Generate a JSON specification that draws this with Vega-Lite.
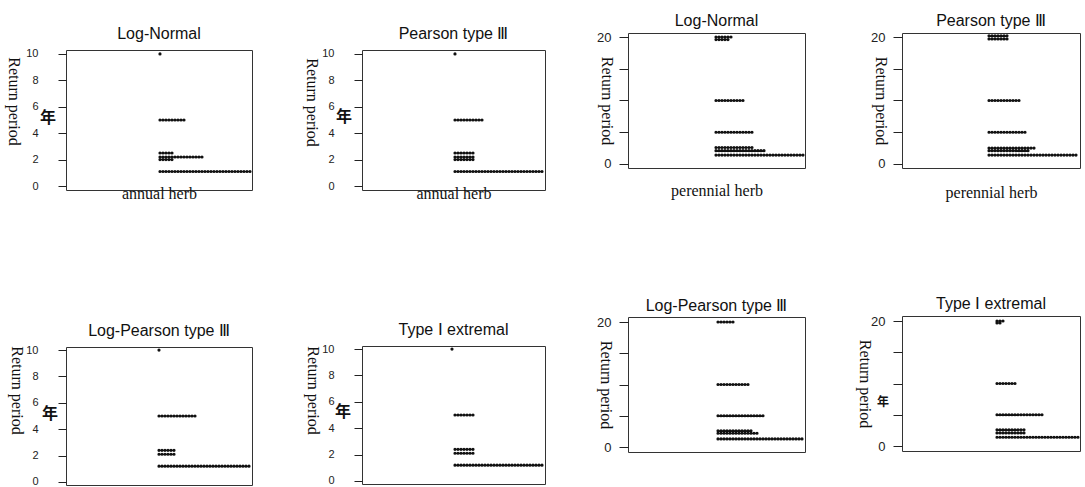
{
  "$schema": "https://vega.github.io/schema/vega-lite/v6.json",
  "padding": {"left": 5, "top": 0, "right": 0, "bottom": 0},
  "background": "white",
  "config": {
    "view": {"stroke": "#333", "strokeWidth": 1},
    "font": "Liberation Sans",
    "title": {"fontSize": 16, "font": "Liberation Sans", "fontWeight": "normal", "color": "#111", "baseline": "alphabetic", "anchor": "middle"},
    "axis": {"grid": false, "domain": false, "tickColor": "#222", "labelColor": "#222", "titleColor": "#111", "titleFont": "Liberation Serif", "titleFontSize": 16, "titleFontWeight": "normal", "labelFont": "Liberation Sans", "labelOverlap": false},
    "rule": {"strokeDash": [0, 3], "strokeCap": "round", "strokeWidth": 3.2, "color": "#111"},
    "text": {"font": "Noto Sans CJK SC", "fontWeight": "bold", "color": "#111"}
  },
  "datasets": {
    "a1": [{"v": 10, "n": 2}, {"v": 5, "n": 10}, {"v": 2.5, "n": 6}, {"v": 2.2, "n": 16}, {"v": 2.0, "n": 6}, {"v": 1.1, "n": 32}],
    "a2": [{"v": 10, "n": 2}, {"v": 5, "n": 11}, {"v": 2.5, "n": 8}, {"v": 2.2, "n": 8}, {"v": 2.0, "n": 8}, {"v": 1.1, "n": 31}],
    "a3": [{"v": 20, "n": 7}, {"v": 19.6, "n": 6}, {"v": 10, "n": 11}, {"v": 5, "n": 14}, {"v": 2.6, "n": 14}, {"v": 2.1, "n": 18}, {"v": 1.4, "n": 31}],
    "a4": [{"v": 20.2, "n": 7}, {"v": 19.7, "n": 7}, {"v": 10, "n": 11}, {"v": 5, "n": 13}, {"v": 2.5, "n": 16}, {"v": 2.1, "n": 14}, {"v": 1.4, "n": 30}],
    "a5": [{"v": 10, "n": 2}, {"v": 5, "n": 14}, {"v": 2.4, "n": 7}, {"v": 2.1, "n": 7}, {"v": 1.2, "n": 32}],
    "a6": [{"v": 10, "n": 1}, {"v": 5, "n": 8}, {"v": 2.4, "n": 8}, {"v": 2.1, "n": 8}, {"v": 1.2, "n": 31}],
    "a7": [{"v": 20, "n": 7}, {"v": 10, "n": 12}, {"v": 5, "n": 17}, {"v": 2.6, "n": 13}, {"v": 2.2, "n": 15}, {"v": 1.3, "n": 30}],
    "a8": [{"v": 20, "n": 4}, {"v": 19.7, "n": 3}, {"v": 10, "n": 8}, {"v": 5, "n": 17}, {"v": 2.6, "n": 11}, {"v": 2.1, "n": 11}, {"v": 1.4, "n": 29}],
    "blank": [{}]
  },
  "spacing": 50,
  "hconcat": [
    {
      "spacing": 0, "bounds": "flush",
      "vconcat": [
        {"width": 1, "height": 50, "view": {"stroke": null}, "data": {"name": "blank"}, "mark": {"type": "point", "opacity": 0, "size": 1}},
        {
          "width": 186, "height": 140,
          "title": {"text": "Log-Normal", "offset": 6},
          "layer": [
            {"data": {"name": "a1"}, "mark": "rule",
             "encoding": {
               "x": {"field": "n", "type": "quantitative", "scale": {"domain": [-29.33, 32.67], "nice": false, "zero": false}, "axis": {"title": "annual herb", "labels": false, "ticks": false, "titlePadding": -5}},
               "x2": {"datum": 1},
               "y": {"field": "v", "type": "quantitative", "scale": {"domain": [-0.3, 10.3], "nice": false, "zero": false}, "axis": {"title": "Return period", "values": [0, 2, 4, 6, 8, 10], "tickCount": 12, "labelOverlap": false, "labelFontSize": 11, "labelPadding": 20, "tickSize": 8, "titleAngle": 90, "titleBaseline": "top", "titlePadding": 4, "titleY": 51}}
             }},
            {"data": {"values": [{"t": "年"}]}, "mark": {"type": "text", "fontSize": 16},
             "encoding": {"text": {"field": "t"}, "x": {"datum": -35.3}, "y": {"datum": 5.15}}}
          ]
        },
        {"width": 1, "height": 157, "view": {"stroke": null}, "data": {"name": "blank"}, "mark": {"type": "point", "opacity": 0, "size": 1}},
        {
          "width": 186, "height": 138,
          "title": {"text": "Log-Pearson type Ⅲ", "offset": 5},
          "layer": [
            {"data": {"name": "a5"}, "mark": "rule",
             "encoding": {
               "x": {"field": "n", "type": "quantitative", "scale": {"domain": [-29, 33], "nice": false, "zero": false}, "axis": null},
               "x2": {"datum": 1},
               "y": {"field": "v", "type": "quantitative", "scale": {"domain": [-0.23, 10.23], "nice": false, "zero": false}, "axis": {"title": "Return period", "values": [0, 2, 4, 6, 8, 10], "tickCount": 12, "labelOverlap": false, "labelFontSize": 11, "labelPadding": 20, "tickSize": 8, "titleAngle": 90, "titleBaseline": "top", "titlePadding": 1, "titleY": 43}}
             }},
            {"data": {"values": [{"t": "年"}]}, "mark": {"type": "text", "fontSize": 16},
             "encoding": {"text": {"field": "t"}, "x": {"datum": -34.3}, "y": {"datum": 5.15}}}
          ]
        }
      ]
    },
    {
      "spacing": 0, "bounds": "flush",
      "vconcat": [
        {"width": 1, "height": 50, "view": {"stroke": null}, "data": {"name": "blank"}, "mark": {"type": "point", "opacity": 0, "size": 1}},
        {
          "width": 183, "height": 140,
          "title": {"text": "Pearson type Ⅲ", "offset": 6},
          "layer": [
            {"data": {"name": "a2"}, "mark": "rule",
             "encoding": {
               "x": {"field": "n", "type": "quantitative", "scale": {"domain": [-29, 32], "nice": false, "zero": false}, "axis": {"title": "annual herb", "labels": false, "ticks": false, "titlePadding": -5}},
               "x2": {"datum": 1},
               "y": {"field": "v", "type": "quantitative", "scale": {"domain": [-0.3, 10.3], "nice": false, "zero": false}, "axis": {"title": "Return period", "values": [0, 2, 4, 6, 8, 10], "tickCount": 12, "labelOverlap": false, "labelFontSize": 11, "labelPadding": 20, "tickSize": 8, "titleAngle": 90, "titleBaseline": "top", "titlePadding": 2, "titleY": 52}}
             }},
            {"data": {"values": [{"t": "年"}]}, "mark": {"type": "text", "fontSize": 16},
             "encoding": {"text": {"field": "t"}, "x": {"datum": -35}, "y": {"datum": 5.2}}}
          ]
        },
        {"width": 1, "height": 156, "view": {"stroke": null}, "data": {"name": "blank"}, "mark": {"type": "point", "opacity": 0, "size": 1}},
        {
          "width": 183, "height": 138,
          "title": {"text": "Type Ⅰ extremal", "offset": 5},
          "layer": [
            {"data": {"name": "a6"}, "mark": "rule",
             "encoding": {
               "x": {"field": "n", "type": "quantitative", "scale": {"domain": [-29, 32], "nice": false, "zero": false}, "axis": null},
               "x2": {"datum": 1},
               "y": {"field": "v", "type": "quantitative", "scale": {"domain": [-0.23, 10.23], "nice": false, "zero": false}, "axis": {"title": "Return period", "values": [0, 2, 4, 6, 8, 10], "tickCount": 12, "labelOverlap": false, "labelFontSize": 11, "labelPadding": 20, "tickSize": 8, "titleAngle": 90, "titleBaseline": "top", "titlePadding": 1, "titleY": 44}}
             }},
            {"data": {"values": [{"t": "年"}]}, "mark": {"type": "text", "fontSize": 16},
             "encoding": {"text": {"field": "t"}, "x": {"datum": -35.3}, "y": {"datum": 5.2}}}
          ]
        }
      ]
    },
    {
      "spacing": 0, "bounds": "flush",
      "vconcat": [
        {"width": 1, "height": 33, "view": {"stroke": null}, "data": {"name": "blank"}, "mark": {"type": "point", "opacity": 0, "size": 1}},
        {
          "width": 177, "height": 135,
          "title": {"text": "Log-Normal", "offset": 2},
          "layer": [
            {"data": {"name": "a3"}, "mark": "rule",
             "encoding": {
               "x": {"field": "n", "type": "quantitative", "scale": {"domain": [-27.33, 31.67], "nice": false, "zero": false}, "axis": {"title": "perennial herb", "labels": false, "ticks": false, "titlePadding": 14}},
               "x2": {"datum": 1},
               "y": {"field": "v", "type": "quantitative", "scale": {"domain": [-0.63, 20.63], "nice": false, "zero": false}, "axis": {"title": "Return period", "values": [0, 5, 10, 15, 20], "tickCount": 12, "labelExpr": "datum.value == 0 || datum.value == 20 ? datum.label : ''", "labelFontSize": 13, "labelPadding": 8, "tickSize": 9, "titleAngle": 90, "titleBaseline": "top", "titlePadding": -18}}
             }}
          ]
        },
        {"width": 1, "height": 149, "view": {"stroke": null}, "data": {"name": "blank"}, "mark": {"type": "point", "opacity": 0, "size": 1}},
        {
          "width": 177, "height": 135,
          "title": {"text": "Log-Pearson type Ⅲ", "offset": 2},
          "layer": [
            {"data": {"name": "a7"}, "mark": "rule",
             "encoding": {
               "x": {"field": "n", "type": "quantitative", "scale": {"domain": [-28, 31], "nice": false, "zero": false}, "axis": null},
               "x2": {"datum": 1},
               "y": {"field": "v", "type": "quantitative", "scale": {"domain": [-0.8, 20.8], "nice": false, "zero": false}, "axis": {"title": "Return period", "values": [0, 5, 10, 15, 20], "tickCount": 12, "labelExpr": "datum.value == 0 || datum.value == 20 ? datum.label : ''", "labelFontSize": 13, "labelPadding": 8, "tickSize": 9, "titleAngle": 90, "titleBaseline": "top", "titlePadding": -17}}
             }}
          ]
        }
      ]
    },
    {
      "spacing": 0, "bounds": "flush",
      "vconcat": [
        {"width": 1, "height": 33, "view": {"stroke": null}, "data": {"name": "blank"}, "mark": {"type": "point", "opacity": 0, "size": 1}},
        {
          "width": 178, "height": 135,
          "title": {"text": "Pearson type Ⅲ", "offset": 2},
          "layer": [
            {"data": {"name": "a4"}, "mark": "rule",
             "encoding": {
               "x": {"field": "n", "type": "quantitative", "scale": {"domain": [-28, 31.33], "nice": false, "zero": false}, "axis": {"title": "perennial herb", "labels": false, "ticks": false, "titlePadding": 16}},
               "x2": {"datum": 1},
               "y": {"field": "v", "type": "quantitative", "scale": {"domain": [-0.63, 20.63], "nice": false, "zero": false}, "axis": {"title": "Return period", "values": [0, 5, 10, 15, 20], "tickCount": 12, "labelExpr": "datum.value == 0 || datum.value == 20 ? datum.label : ''", "labelFontSize": 13, "labelPadding": 8, "tickSize": 9, "titleAngle": 90, "titleBaseline": "top", "titlePadding": -18}}
             }}
          ]
        },
        {"width": 1, "height": 148, "view": {"stroke": null}, "data": {"name": "blank"}, "mark": {"type": "point", "opacity": 0, "size": 1}},
        {
          "width": 178, "height": 135,
          "title": {"text": "Type Ⅰ extremal", "offset": 3},
          "layer": [
            {"data": {"name": "a8"}, "mark": "rule",
             "encoding": {
               "x": {"field": "n", "type": "quantitative", "scale": {"domain": [-29.67, 29.67], "nice": false, "zero": false}, "axis": null},
               "x2": {"datum": 1},
               "y": {"field": "v", "type": "quantitative", "scale": {"domain": [-0.8, 20.8], "nice": false, "zero": false}, "axis": {"title": "Return period", "values": [0, 5, 10, 15, 20], "tickCount": 12, "labelExpr": "datum.value == 0 || datum.value == 20 ? datum.label : ''", "labelFontSize": 13, "labelPadding": 8, "tickSize": 9, "titleAngle": 90, "titleBaseline": "top", "titlePadding": -2}}
             }},
            {"data": {"values": [{"t": "年"}]}, "mark": {"type": "text", "fontSize": 12},
             "encoding": {"text": {"field": "t"}, "x": {"datum": -36}, "y": {"datum": 7}}}
          ]
        }
      ]
    }
  ]
}
